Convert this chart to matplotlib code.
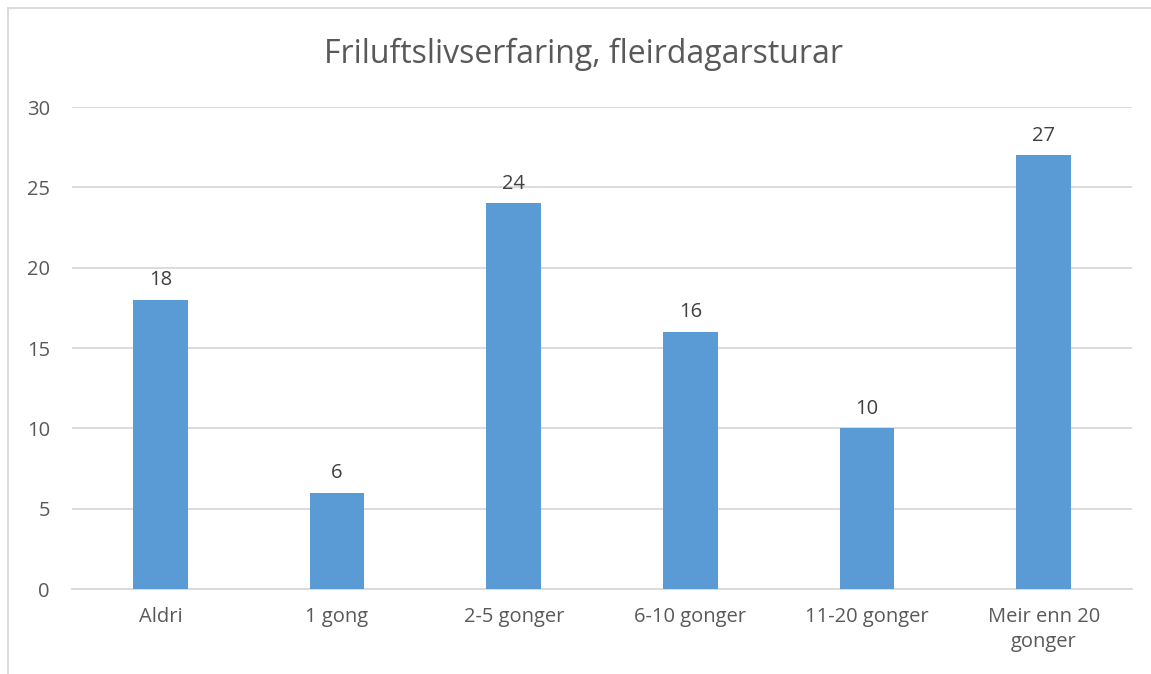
import matplotlib.pyplot as plt
from matplotlib.lines import Line2D

categories = ['Aldri', '1 gong', '2-5 gonger', '6-10 gonger', '11-20 gonger',
              'Meir enn 20\ngonger']
values = [18, 6, 24, 16, 10, 27]
title = 'Friluftslivserfaring, fleirdagarsturar'

text_color = '#595959'
bar_color = '#5B9BD5'
grid_color = '#D9D9D9'

plt.rcParams['font.family'] = ['Open Sans', 'DejaVu Sans']

fig = plt.figure(figsize=(11.51, 6.74), dpi=100)
ax = fig.add_axes([0.0626, 0.1261, 0.9209, 0.7151])

x = list(range(len(categories)))
bars = ax.bar(x, values, width=0.31, color=bar_color, zorder=3)

# 数值标签
for xi, v in zip(x, values):
    ax.text(xi, v + 0.6, str(v), ha='center', va='bottom',
            fontsize=14.5, color='#404040')

ax.set_xlim(-0.5, len(categories) - 0.5)
ax.set_ylim(0, 30)
ax.set_yticks(range(0, 31, 5))
ax.set_xticks(x)
ax.set_xticklabels(categories, fontsize=14.5, color=text_color,
                   linespacing=1.35)
ax.tick_params(axis='y', labelsize=14.5, labelcolor=text_color, length=0,
               pad=16)
ax.tick_params(axis='x', length=0, pad=13)
ax.yaxis.grid(True, color=grid_color, linewidth=1.3, zorder=0)

for side in ['top', 'right', 'left']:
    ax.spines[side].set_visible(False)
ax.spines['bottom'].set_color(grid_color)
ax.spines['bottom'].set_linewidth(1.3)

fig.text(0.507, 0.92, title, ha='center', va='center', fontsize=23,
         color=text_color)

# 图表外框
fig.add_artist(Line2D([8 / 1151, 8 / 1151], [0, 1 - 8 / 674],
                      transform=fig.transFigure, color=grid_color, lw=1.3))
fig.add_artist(Line2D([8 / 1151, 1], [1 - 8 / 674, 1 - 8 / 674],
                      transform=fig.transFigure, color=grid_color, lw=1.3))

fig.savefig('out.png', dpi=100)
